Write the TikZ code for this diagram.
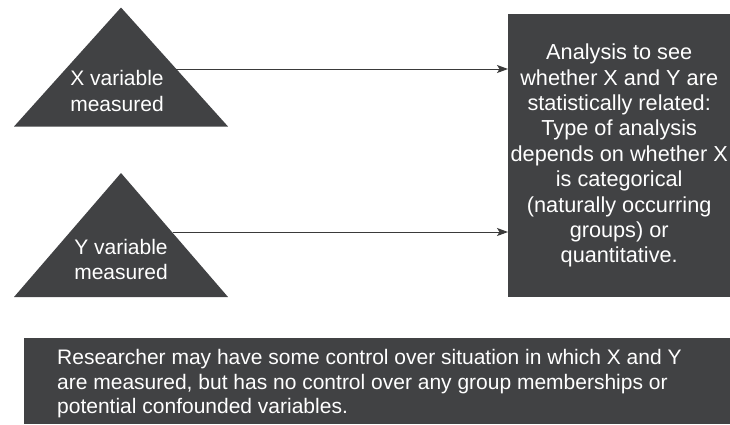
\documentclass[tikz,border=0pt]{standalone}
\usepackage{fontspec}
\setmainfont{Liberation Sans}
\usetikzlibrary{arrows.meta}
\definecolor{boxgray}{HTML}{414244}
\definecolor{linegray}{HTML}{3A3A3A}
\begin{document}
\begin{tikzpicture}[x=1pt,y=-1pt,
  lbl/.style={text=white, inner sep=0pt, font=\fontsize{21}{25.4}\selectfont},
  panel/.style={fill=boxgray, draw=none, inner sep=0pt, anchor=north west},
  conn/.style={draw=linegray, line width=1pt, -{Stealth[length=11pt,width=8pt,inset=2.5pt]}}]
\useasboundingbox (0,0) rectangle (730,424);
% triangles
\fill[boxgray] (121,7.5) -- (228,126.5) -- (14,126.5) -- cycle;
\fill[boxgray] (121,173) -- (228,297) -- (14,297) -- cycle;
\node[lbl, align=center] (xt) at (117,90.8) {X variable\\measured};
\node[lbl, align=center] (yt) at (121,259.3) {Y variable\\measured};
\coordinate (xs) at (176,69);
\coordinate (ys) at (173,232);
% analysis box
\node[panel, lbl, align=center, minimum width=222pt, minimum height=283pt,
  font=\fontsize{21.7}{25.4}\selectfont] (ana) at (508,14)
  {Analysis to see\\whether X and Y are\\statistically related:\\Type of analysis\\depends on whether X\\is categorical\\(naturally occurring\\groups) or\\quantitative.};
% arrows
\draw[conn] (xs) -- (xs -| ana.west);
\draw[conn] (ys) -- (ys -| ana.west);
% note box
\node[panel, minimum width=706pt, minimum height=86pt] (note) at (24,338) {};
\node[lbl, align=left, anchor=west, font=\fontsize{21}{24.5}\selectfont] (notetext) at (57,384)
  {Researcher may have some control over situation in which X and Y\\are measured, but has no control over any group memberships or\\potential confounded variables.};
\end{tikzpicture}
\end{document}
